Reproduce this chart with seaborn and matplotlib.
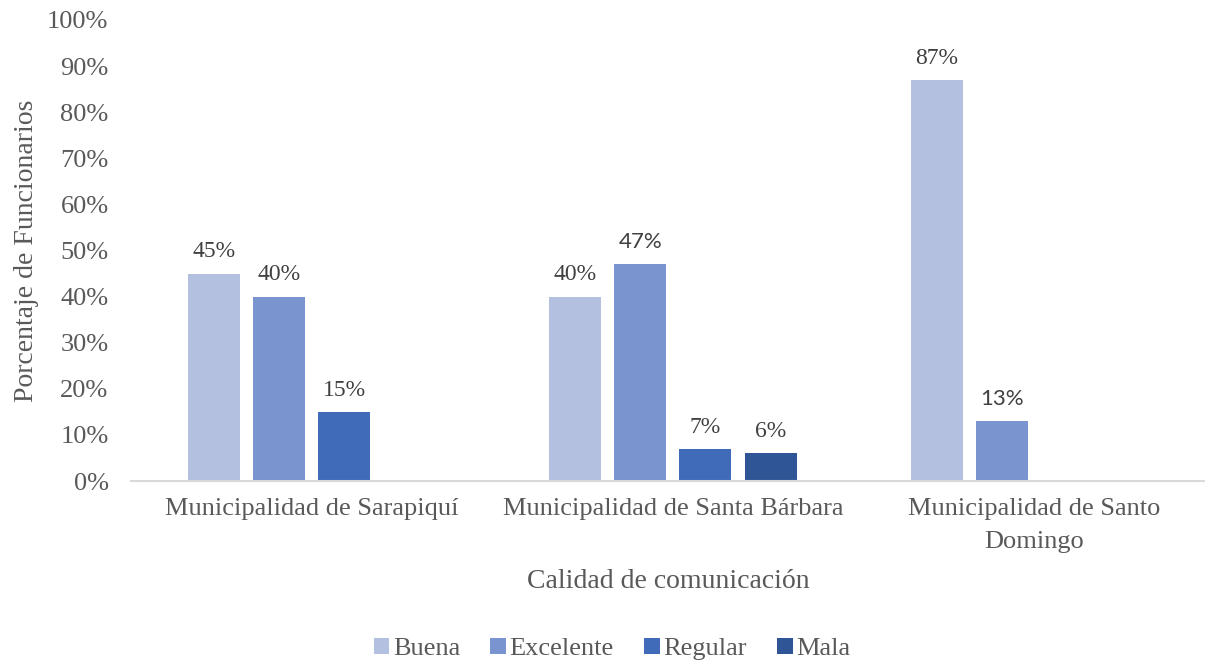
import matplotlib
matplotlib.use("Agg")
import matplotlib.pyplot as plt
import seaborn as sns
import pandas as pd

categories = ["Municipalidad de Sarapiquí", "Municipalidad de Santa Bárbara",
              "Municipalidad de Santo\nDomingo"]
series = ["Buena", "Excelente", "Regular", "Mala"]
buena = [45, 40, 87]
excelente = [40, 47, 13]
regular = [15, 7, None]
mala = [None, 6, None]
colors = ["#B4C0E0", "#7A94D0", "#3F6BB8", "#305597"]
yticks = [0, 10, 20, 30, 40, 50, 60, 70, 80, 90, 100]
sans_labels = {("Municipalidad de Santa Bárbara", "Excelente"),
               ("Municipalidad de Santo\nDomingo", "Excelente")}

rows = []
for s, vals in zip(series, [buena, excelente, regular, mala]):
    for c, v in zip(categories, vals):
        if v is not None:
            rows.append({"cat": c, "serie": s, "val": v})
df = pd.DataFrame(rows)

sns.set_theme(style="white")
SERIF = ["Liberation Serif", "DejaVu Serif"]
plt.rcParams["font.family"] = SERIF
grey = "#595959"

fig = plt.figure(figsize=(12.05, 6.64), dpi=100)
ax = fig.add_axes([0.1085, 0.2756, 0.8915, 0.6944])

sns.barplot(data=df, x="cat", y="val", hue="serie", order=categories,
            hue_order=series, palette=colors, width=0.72, gap=0.2,
            saturation=1, ax=ax, legend=True, linewidth=0)

ax.set_ylim(0, 100)
ax.set_xlim(-0.5, 2.472)
ax.set_yticks(yticks)
ax.set_yticklabels([f"{t}%" for t in yticks], fontsize=19, color=grey, family=SERIF)
ax.tick_params(axis="y", length=0, pad=16)
ax.tick_params(axis="x", length=0, pad=12, labelsize=19, labelcolor=grey)
for lab in ax.get_xticklabels():
    lab.set_linespacing(1.65)
    lab.set_family(SERIF)

for sp in ["top", "right", "left"]:
    ax.spines[sp].set_visible(False)
ax.spines["bottom"].set_color("#D9D9D9")
ax.spines["bottom"].set_linewidth(1.5)
ax.grid(False)

ax.set_xlabel("Calidad de comunicación", fontsize=20, color=grey, labelpad=12,
              family=SERIF)
ax.set_ylabel("Porcentaje de Funcionarios", fontsize=20, color=grey, labelpad=6,
              family=SERIF)

for container, s in zip(ax.containers, series):
    sub = df[df["serie"] == s].set_index("cat")
    present = [c for c in categories if c in sub.index]
    for bar, c in zip(container, present):
        v = sub.loc[c, "val"]
        x = bar.get_x() + bar.get_width() / 2
        if (c, s) in sans_labels:
            ax.annotate(f"{v:g}%", (x, v), xytext=(0, 9), textcoords="offset points",
                        ha="center", va="bottom", fontsize=16, color="#404040",
                        family=["Lato", "DejaVu Sans"])
        else:
            ax.annotate(f"{v:g}%", (x, v), xytext=(0, 8), textcoords="offset points",
                        ha="center", va="bottom", fontsize=17, color="#404040",
                        family=SERIF)

handles, labels = ax.get_legend_handles_labels()
ax.get_legend().remove()
leg = fig.legend(handles, labels, loc="lower center", bbox_to_anchor=(0.508, -0.03),
                 ncol=4, frameon=False, prop={"family": SERIF, "size": 19},
                 handlelength=0.58, handleheight=0.58, handletextpad=0.15,
                 columnspacing=1.15, labelcolor=grey)

fig.savefig("out.png", dpi=100)
